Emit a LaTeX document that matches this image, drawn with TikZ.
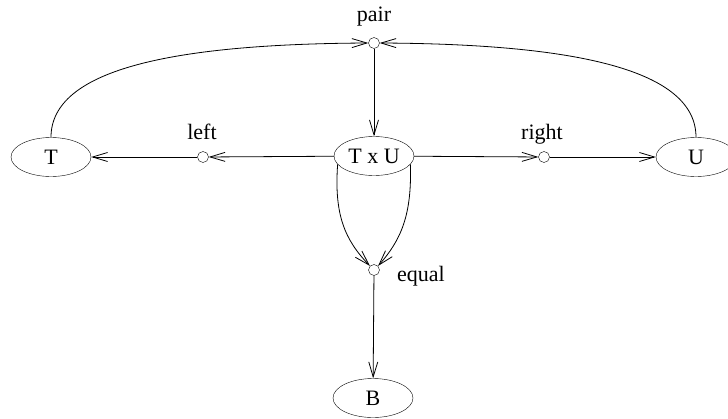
\documentclass[tikz,border=0pt]{standalone}
\usepackage{fontspec}
\setmainfont{Liberation Serif}
\usetikzlibrary{arrows.meta,positioning,shapes.geometric}

\begin{document}
\begin{tikzpicture}[
  x=1pt, y=-1pt,
  every node/.style={font=\fontsize{22}{26}\selectfont},
  obj/.style={draw, ellipse, minimum width=80pt, minimum height=39pt,
              inner sep=0pt},
  op/.style={draw, circle, minimum size=11pt, inner sep=0pt},
  lbl/.style={inner sep=0pt},
  arr/.style={-{Straight Barb[length=15pt,width=9pt]}, line width=0.8pt},
]
\useasboundingbox (0,0) rectangle (728,418);

\node[obj] (prod) at (374,156) {T x U};
\node[obj] (t)    at (51,157)  {T};
\node[obj] (u)    at (696,157) {U};
\node[obj] (b)    at (373,398) {B};

\node[op] (pair)  at (374,43)  {};
\node[op] (left)  at (203,157) {};
\node[op] (right) at (544,157) {};
\node[op] (equal) at (374,270) {};

\node[lbl, anchor=base]      (pairlbl)  at (374,21)  {pair};
\node[lbl, anchor=base]      (leftlbl)  at (202,139) {left};
\node[lbl, anchor=base]      (rightlbl) at (542,139) {right};
\node[lbl, anchor=base west] (equallbl) at (397,281) {equal};

\draw[arr] (prod)  -- (left);
\draw[arr] (left)  -- (t);
\draw[arr] (prod)  -- (right);
\draw[arr] (right) -- (u);
\draw[arr] (pair)  -- (prod);
\draw[arr] (equal) -- (b);
\draw[arr] (t.north) .. controls (51,70) and (170,44) .. (pair.west);
\draw[arr] (u.north) .. controls (696,70) and (577,44) .. (pair.east);
\draw[arr] (prod.193) .. controls (334,215) and (345,240) .. (equal.135);
\draw[arr] (prod.-13) .. controls (412,215) and (401,240) .. (equal.45);
\end{tikzpicture}
\end{document}
